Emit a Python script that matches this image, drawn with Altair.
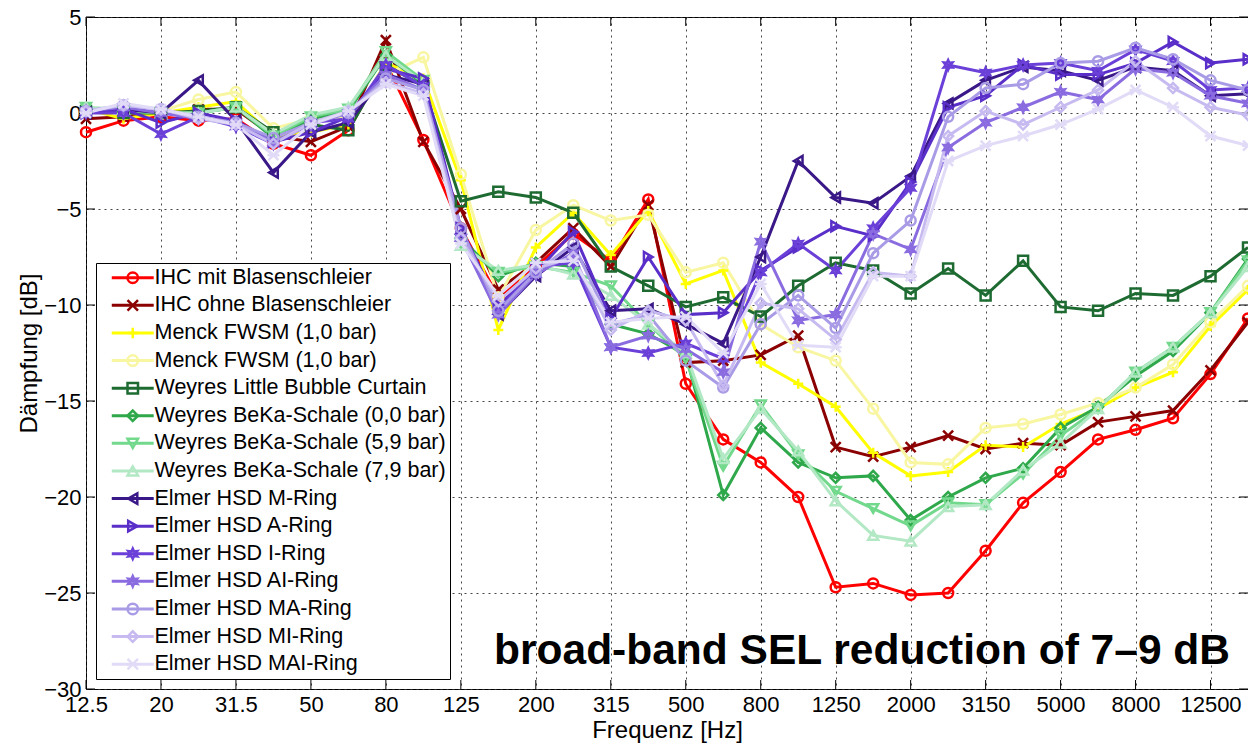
import altair as alt
import pandas as pd

freqs = ["12.5", "16", "20", "25", "31.5", "40", "50", "63", "80", "100", "125", "160",
         "200", "250", "315", "400", "500", "630", "800", "1000", "1250", "1600", "2000",
         "2500", "3150", "4000", "5000", "6300", "8000", "10000", "12500", "16000"]

series_names = [
    "IHC mit Blasenschleier",
    "IHC ohne Blasenschleier",
    "Menck FWSM (1,0 bar)",
    "Menck FWSM (1,0 bar) ",
    "Weyres Little Bubble Curtain",
    "Weyres BeKa-Schale (0,0 bar)",
    "Weyres BeKa-Schale (5,9 bar)",
    "Weyres BeKa-Schale (7,9 bar)",
    "Elmer HSD M-Ring",
    "Elmer HSD A-Ring",
    "Elmer HSD I-Ring",
    "Elmer HSD AI-Ring",
    "Elmer HSD MA-Ring",
    "Elmer HSD MI-Ring",
    "Elmer HSD MAI-Ring",
]

colors = ["#ff0000", "#8b0000", "#ffff00", "#f8f6a0", "#1e6b32", "#2ea84a", "#72d98c",
          "#b2e8c4", "#3a1888", "#5a2ec8", "#6b40d8", "#8a6ce0", "#a99be6", "#c6baf0", "#e2dbf7"]

star_path = ("M0,-1L0.25,-0.43L0.87,-0.5L0.5,0L0.87,0.5L0.25,0.43L0,1L-0.25,0.43L-0.87,0.5"
             "L-0.5,0L-0.87,-0.5L-0.25,-0.43Z")
shapes = ["circle", "M-1,-1L1,1M1,-1L-1,1", "M-1,0L1,0M0,-1L0,1", "circle", "square",
          "diamond", "triangle-down", "triangle-up", "triangle-left", "triangle-right",
          star_path, star_path, "circle", "diamond", "M-1,-1L1,1M1,-1L-1,1M-1.2,0L1.2,0"]

ihc_mit = [-1.0, -0.4, -0.2, -0.4, -0.3, -1.6, -2.2, -0.9, 2.6, -1.4, -6.0, -9.6, -8.0, -6.3, -7.7, -4.5,
           -14.1, -17.0, -18.2, -20.0, -24.7, -24.5, -25.1, -25.0, -22.8, -20.3, -18.7, -17.0, -16.5, -15.9, -13.6, -10.7]
ihc_ohne = [-0.3, -0.2, 0.0, 0.2, 0.2, -1.2, -1.5, -0.7, 3.8, -1.5, -5.0, -9.2, -7.8, -6.0, -8.0, -4.8,
            -13.0, -12.9, -12.6, -11.6, -17.4, -17.9, -17.4, -16.8, -17.5, -17.2, -17.3, -16.1, -15.8, -15.5, -13.4, -10.9]
menck_1 = [0.2, -0.3, 0.0, 0.3, 0.6, -1.2, -1.0, -0.6, 2.6, 1.8, -3.5, -11.3, -7.0, -5.2, -7.4, -5.1,
           -8.9, -8.2, -13.0, -14.1, -15.3, -17.7, -18.9, -18.7, -17.3, -17.4, -16.2, -15.4, -14.3, -13.5, -11.1, -9.2]
menck_2 = [0.2, 0.0, 0.1, 0.7, 1.1, -0.8, -0.3, -0.2, 2.0, 2.9, -3.2, -9.6, -6.1, -4.8, -5.6, -5.3,
           -8.3, -7.8, -11.0, -12.2, -12.9, -15.4, -18.2, -18.3, -16.4, -16.2, -15.7, -15.1, -14.3, -13.1, -10.9, -9.0]
weyres_lbc = [0.1, 0.0, 0.0, 0.1, 0.3, -1.0, -0.6, -0.9, 2.5, 1.4, -4.6, -4.1, -4.4, -5.2, -8.0, -9.0,
              -10.1, -9.6, -10.6, -9.0, -7.8, -8.2, -9.4, -8.1, -9.5, -7.7, -10.1, -10.3, -9.4, -9.5, -8.5, -7.0]
beka_00 = [0.2, 0.1, 0.0, 0.0, 0.3, -1.3, -0.3, 0.1, 3.0, 1.5, -6.5, -8.5, -7.8, -8.0, -11.0, -11.5,
           -12.6, -19.9, -16.4, -18.2, -19.0, -18.9, -21.2, -20.0, -19.0, -18.5, -16.4, -15.3, -13.7, -12.4, -10.4, -7.6]
beka_59 = [0.3, 0.1, 0.0, 0.0, 0.3, -1.2, -0.2, 0.2, 3.2, 1.7, -6.8, -8.3, -8.0, -8.3, -9.0, -11.0,
           -12.8, -18.4, -15.2, -17.8, -19.7, -20.6, -21.5, -20.3, -20.4, -18.8, -16.8, -15.4, -13.5, -12.2, -10.4, -7.7]
beka_79 = [0.3, 0.2, 0.0, 0.0, 0.3, -1.1, -0.1, 0.3, 3.0, 1.6, -6.9, -8.2, -7.9, -8.4, -9.5, -11.0,
           -12.5, -18.0, -15.4, -17.6, -20.2, -22.0, -22.3, -20.5, -20.4, -18.6, -17.2, -15.4, -13.5, -12.2, -10.4, -8.0]
hsd_m = [0.0, 0.2, 0.0, 1.7, -0.4, -3.1, -1.0, -0.5, 2.0, 1.5, -6.3, -10.5, -8.5, -7.0, -10.3, -10.2,
         -11.0, -12.0, -7.5, -2.5, -4.4, -4.7, -3.3, 0.5, 1.7, 2.4, 2.2, 1.7, 2.4, 2.2, 0.9, 1.0]
hsd_a = [0.0, 0.2, -0.5, 0.0, -0.4, -1.5, -1.0, -0.2, 2.3, 1.8, -6.0, -10.0, -8.3, -6.2, -10.7, -7.5,
         -10.5, -10.4, -8.2, -7.0, -5.9, -6.4, -3.6, 0.3, 0.9, 2.5, 2.0, 2.0, 2.6, 3.7, 2.6, 2.8]
hsd_i = [0.0, 0.0, -1.1, -0.2, -0.7, -1.6, -0.5, -0.3, 2.5, 1.4, -6.5, -10.3, -8.0, -7.8, -12.2, -12.5,
         -12.0, -12.8, -8.3, -6.8, -8.2, -6.0, -3.9, 2.5, 2.1, 2.5, 2.6, 2.2, 3.3, 2.7, 1.2, 1.3]
hsd_ai = [0.1, 0.3, 0.0, -0.3, -0.5, -1.5, -0.6, 0.0, 2.0, 1.2, -6.5, -10.5, -8.4, -7.3, -12.2, -11.6,
          -12.3, -13.5, -6.7, -10.8, -10.5, -6.3, -7.1, -1.8, -0.5, 0.3, 1.1, 0.7, 2.3, 2.1, 0.9, 0.5]
hsd_ma = [0.1, 0.4, 0.2, -0.2, -0.5, -1.3, -0.5, 0.0, 1.8, 1.2, -6.0, -10.3, -8.3, -6.8, -11.0, -10.5,
          -12.9, -14.3, -11.0, -9.5, -11.2, -7.3, -5.6, -0.2, 1.3, 1.5, 2.6, 2.7, 3.4, 2.8, 1.7, 1.2]
hsd_mi = [0.1, 0.4, 0.2, -0.3, -0.6, -1.6, -0.5, 0.1, 1.6, 1.0, -6.5, -9.8, -8.1, -7.5, -11.3, -10.3,
          -10.8, -14.2, -9.9, -10.2, -11.8, -8.3, -8.5, -1.2, 0.1, -0.6, 0.3, 1.2, 2.7, 1.3, 0.3, -0.1]
hsd_mai = [0.0, 0.5, 0.2, -0.2, -0.6, -2.2, -0.6, 0.1, 1.5, 0.9, -6.8, -9.5, -7.8, -7.7, -10.9, -10.7,
           -10.6, -12.5, -8.9, -12.1, -12.2, -8.5, -8.5, -2.5, -1.7, -1.2, -0.6, 0.2, 1.2, 0.3, -1.2, -1.7]

all_values = [ihc_mit, ihc_ohne, menck_1, menck_2, weyres_lbc, beka_00, beka_59, beka_79,
              hsd_m, hsd_a, hsd_i, hsd_ai, hsd_ma, hsd_mi, hsd_mai]

tick_idx = list(range(0, 31, 2))
y_ticks = [-30, -25, -20, -15, -10, -5, 0, 5]
annotation = "broad-band SEL reduction of 7\u20139 dB"

rows = []
for k, (name, vals) in enumerate(zip(series_names, all_values)):
    for i, v in enumerate(vals):
        rows.append({"series": name, "idx": i, "value": v, "k": k})
df = pd.DataFrame(rows)

W, H = 1162, 672
FONT = "Liberation Sans"

label_js = "[" + ",".join("'%s'" % f for f in freqs) + "][datum.value]"

xscale = alt.Scale(domain=[0, 31], nice=False, zero=False)
yscale = alt.Scale(domain=[-30, 5], nice=False, zero=False)
cscale = alt.Scale(domain=series_names, range=colors)
sscale = alt.Scale(domain=series_names, range=shapes)

LX, LY, LP = 10, 246, 4
LFS = 21.5
ROWPAD = 4.6
SYM = 110
SYMOFF = 22
LABOFF = 11

legend_lines = alt.Legend(title=None, orient="none", legendX=LX, legendY=LY, fillColor="white",
                          strokeColor="black", padding=LP, labelFontSize=LFS, labelFont=FONT,
                          labelColor="black", symbolType="M-4.0,0L4.0,0", symbolSize=SYM,
                          symbolStrokeWidth=3, rowPadding=ROWPAD, labelLimit=500,
                          symbolOffset=SYMOFF, labelOffset=LABOFF)
legend_marks = alt.Legend(title=None, orient="none", legendX=LX + LP, legendY=LY + LP,
                          padding=0, labelFontSize=LFS, labelFont=FONT, labelOpacity=0,
                          symbolSize=SYM, symbolStrokeWidth=2.5, rowPadding=ROWPAD,
                          labelLimit=500, symbolOffset=SYMOFF, labelOffset=LABOFF)

x = alt.X("idx:Q", scale=xscale,
          axis=alt.Axis(values=tick_idx, labelExpr=label_js, title="Frequenz [Hz]",
                        grid=True, gridDash=[2, 4], gridColor="#333", gridOpacity=0.9,
                        ticks=False, domain=False, labelFontSize=22, labelFont=FONT,
                        labelColor="black", labelPadding=5, titleFontSize=24, titleFont=FONT,
                        titleFontWeight="normal", titleColor="black", titlePadding=3,
                        labelFlush=False, labelOverlap=False))
y = alt.Y("value:Q", scale=yscale,
          axis=alt.Axis(values=y_ticks, title="Dämpfung [dB]", grid=True, gridDash=[2, 4],
                        gridColor="#333", gridOpacity=0.9, ticks=False, domain=False,
                        labelFontSize=22, labelFont=FONT, labelColor="black", labelPadding=5,
                        titleFontSize=24, titleFont=FONT, titleFontWeight="normal",
                        titleColor="black", titlePadding=2, labelFlush=False,
                        labelOverlap=False))

base = alt.Chart(df)
lines = base.mark_line(strokeWidth=3).encode(
    x=x, y=y,
    color=alt.Color("series:N", scale=cscale, sort=series_names, legend=legend_lines),
    detail="series:N", order="idx:Q")
points = base.mark_point(filled=False, size=100, strokeWidth=2.5, opacity=1).encode(
    x=x, y=y,
    color=alt.Color("series:N", scale=cscale, sort=series_names, legend=legend_marks),
    shape=alt.Shape("series:N", scale=sscale, sort=series_names, legend=legend_marks))

# inward ticks (MATLAB style)
xt = pd.DataFrame({"idx": tick_idx})
yt = pd.DataFrame({"value": y_ticks})
bottom_ticks = alt.Chart(xt).mark_rule(color="black", strokeWidth=1).encode(
    x=alt.X("idx:Q", scale=xscale), y=alt.value(H), y2=alt.value(H - 9))
top_ticks = alt.Chart(xt).mark_rule(color="black", strokeWidth=1).encode(
    x=alt.X("idx:Q", scale=xscale), y=alt.value(0), y2=alt.value(9))
left_ticks = alt.Chart(yt).mark_rule(color="black", strokeWidth=1).encode(
    y=alt.Y("value:Q", scale=yscale), x=alt.value(0), x2=alt.value(9))
right_ticks = alt.Chart(yt).mark_rule(color="black", strokeWidth=1).encode(
    y=alt.Y("value:Q", scale=yscale), x=alt.value(W), x2=alt.value(W - 9))

note = alt.Chart(pd.DataFrame({"t": [annotation]})).mark_text(
    align="right", baseline="alphabetic", fontSize=42.5, fontWeight="bold",
    font=FONT, color="black").encode(
    text="t:N", x=alt.value(1144), y=alt.value(647))

chart = alt.layer(bottom_ticks, top_ticks, left_ticks, right_ticks, lines, points, note).resolve_legend(
    color="independent", shape="independent"
).properties(
    width=W, height=H,
    autosize=alt.AutoSizeParams(type="none"),
    padding={"left": 86, "top": 17, "right": 0, "bottom": 57},
    background="white",
).configure_view(stroke="black", strokeWidth=1)

chart.save("out.html", embed_options={"renderer": "svg", "actions": False})
